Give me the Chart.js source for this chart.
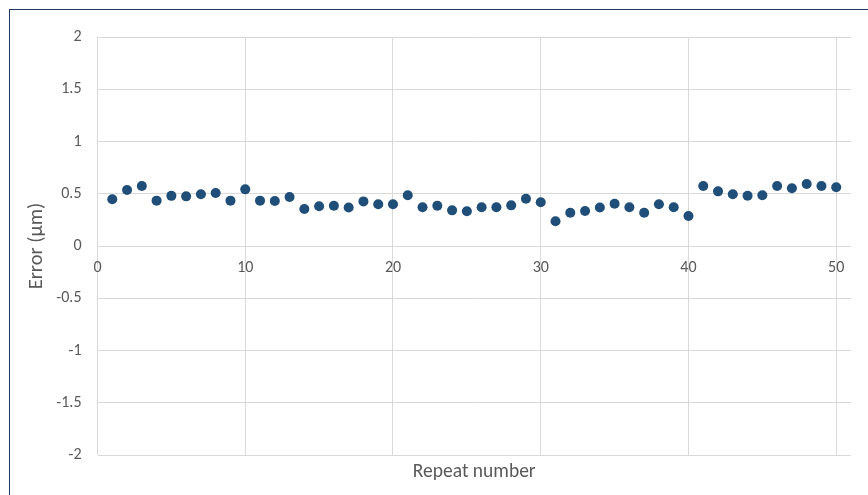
<!DOCTYPE html>
<html>
<head>
<meta charset="utf-8">
<script src="https://cdn.jsdelivr.net/npm/chart.js@4.4.1/dist/chart.umd.min.js"></script>
<style>
  html, body { margin: 0; padding: 0; background: #ffffff; }
  #wrap { position: relative; width: 868px; height: 495px; }
  #frame { position: absolute; left: 9px; top: 9px; right: 0; bottom: 0;
           border-left: 1.5px solid #1f3a5f; border-top: 1.5px solid #1f3a5f; pointer-events: none; }
</style>
</head>
<body>
<div id="wrap">
  <canvas id="c" width="868" height="495"></canvas>
  <div id="frame"></div>
</div>
<script>
const repeatNumbers = [1,2,3,4,5,6,7,8,9,10,11,12,13,14,15,16,17,18,19,20,21,22,23,24,25,26,27,28,29,30,31,32,33,34,35,36,37,38,39,40,41,42,43,44,45,46,47,48,49,50];
const errorValues = [0.447,0.536,0.574,0.434,0.480,0.475,0.495,0.507,0.434,0.542,
                     0.434,0.430,0.469,0.354,0.380,0.386,0.369,0.427,0.399,0.399,
                     0.485,0.370,0.386,0.341,0.332,0.370,0.370,0.389,0.453,0.418,
                     0.236,0.319,0.335,0.368,0.405,0.370,0.319,0.399,0.370,0.287,
                     0.574,0.523,0.495,0.481,0.485,0.574,0.552,0.593,0.574,0.562];
const xTickValues = [0,10,20,30,40,50];
const xTickLabels = ['0','10','20','30','40','50'];
const yTickValues = [-2,-1.5,-1,-0.5,0,0.5,1,1.5,2];
const yTickLabels = ['-2','-1.5','-1','-0.5','0','0.5','1','1.5','2'];
const xTitle = 'Repeat number';
const yTitle = 'Error (µm)';

const FONT = "Carlito, Calibri, Lato, 'Open Sans', sans-serif";
const TXT = '#595959';
const GRID = '#d9d9d9';

new Chart(document.getElementById('c'), {
  type: 'scatter',
  data: {
    datasets: [{
      data: repeatNumbers.map((x, i) => ({ x: x, y: errorValues[i] })),
      backgroundColor: '#1f4e79',
      borderColor: '#1f4e79',
      pointRadius: 5,
      pointHoverRadius: 5,
      borderWidth: 0
    }]
  },
  options: {
    responsive: false,
    animation: false,
    events: [],
    layout: { padding: { left: 10, top: 37, right: 17, bottom: 0 } },
    plugins: { legend: { display: false }, tooltip: { enabled: false } },
    scales: {
      x: {
        type: 'linear',
        position: { y: 0 },
        min: 0,
        max: 51,
        afterBuildTicks: s => { s.ticks = xTickValues.map(v => ({ value: v })); },
        ticks: { color: TXT, font: { family: FONT, size: 16 }, padding: 12.5, maxRotation: 0,
                 callback: (v) => xTickLabels[xTickValues.indexOf(v)] },
        grid: { color: GRID, lineWidth: 1, drawTicks: false },
        border: { display: false }
      },
      x2: {
        type: 'linear',
        position: 'bottom',
        min: 0, max: 51,
        grid: { display: false, drawTicks: false },
        border: { display: false },
        ticks: { display: false },
        title: { display: true, text: xTitle, color: TXT, font: { family: FONT, size: 19.5 }, padding: { top: 4, bottom: 11.3 } },
        afterFit: s => { s.height = 40; }
      },
      y: {
        type: 'linear',
        min: -2,
        max: 2,
        afterBuildTicks: s => { s.ticks = yTickValues.map(v => ({ value: v })); },
        ticks: { color: TXT, font: { family: FONT, size: 16 }, padding: 16,
                 callback: (v) => yTickLabels[yTickValues.indexOf(v)] },
        grid: { color: GRID, lineWidth: 1, drawTicks: false },
        border: { display: false },
        title: { display: true, text: yTitle, color: TXT, font: { family: FONT, size: 20.5 }, padding: { top: 14.7, bottom: 0 } },
        afterFit: s => { s.width = 87.5; }
      }
    }
  }
});
</script>
</body>
</html>
